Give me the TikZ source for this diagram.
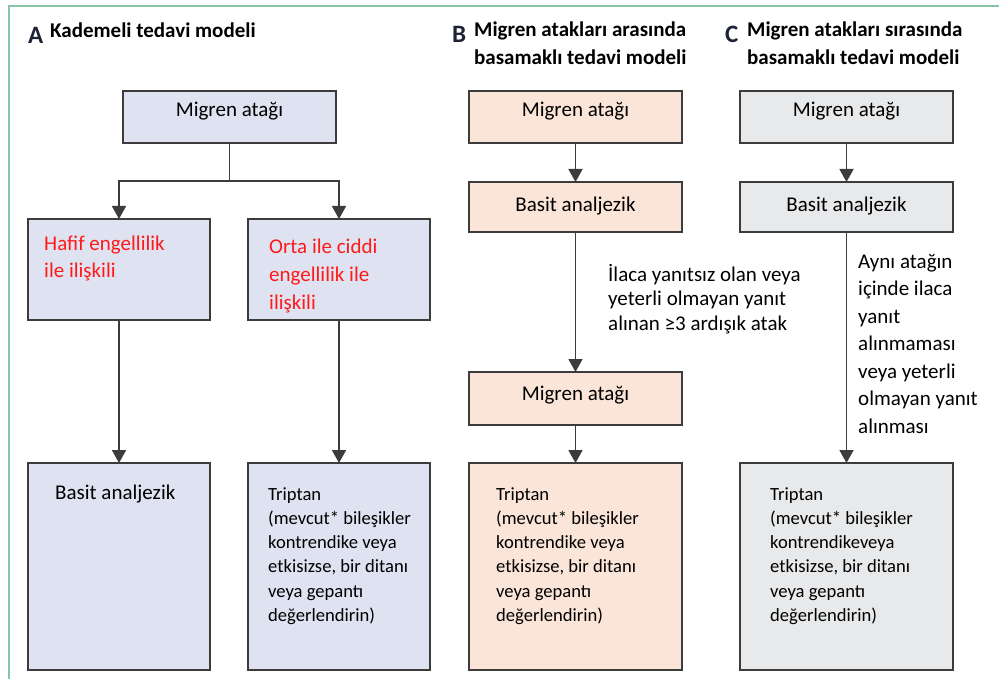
\documentclass[tikz,border=0pt]{standalone}
\usepackage{fontspec}
\setmainfont{Carlito}
\usetikzlibrary{arrows.meta}
\definecolor{frameg}{HTML}{86C5A5}
\definecolor{fillA}{HTML}{DFE2F1}
\definecolor{fillB}{HTML}{FBE5D9}
\definecolor{fillC}{HTML}{E8E9EB}
\definecolor{edgec}{HTML}{3C3C3C}
\definecolor{redt}{HTML}{FF1A1A}
\definecolor{titlec}{HTML}{1E2235}
\begin{document}
\begin{tikzpicture}[x=1pt,y=-1pt,
  box/.style={draw=edgec, line width=2pt, inner sep=0pt, outer sep=0pt, anchor=north west},
  boxA/.style={box, fill=fillA},
  boxB/.style={box, fill=fillB},
  boxC/.style={box, fill=fillC},
  arr/.style={draw=edgec, line width=1.8pt, -{Triangle[width=14pt,length=13pt]}},
  txt/.style={inner sep=0pt, font=\fontsize{21}{28}\selectfont, text=black},
  rtxt/.style={txt, text=redt, align=left, anchor=base west},
  ttl/.style={inner sep=0pt, font=\fontsize{21}{28}\selectfont\bfseries, align=left, anchor=base west},
  letter/.style={inner sep=0pt, font=\fontsize{25}{28}\selectfont\bfseries, text=titlec, anchor=base west},
  trip/.style={inner sep=0pt, font=\fontsize{18.6}{24.3}\selectfont, align=left, anchor=base west},
  lblB/.style={inner sep=0pt, font=\fontsize{21}{24.7}\selectfont, align=left, anchor=base west},
  lblC/.style={inner sep=0pt, font=\fontsize{21}{27.5}\selectfont, align=left, anchor=base west}
]
\useasboundingbox (0,0) rectangle (999,679);
% frame
\draw[frameg, line width=2pt] (999,6) -- (9,6) -- (9,679);

% ---------- Panel A ----------
\node[letter] (LA) at (28,44) {A};
\node[ttl] (TA) at (50,38) {Kademeli tedavi modeli};
\node[boxA, minimum width=213pt, minimum height=52pt] (a1) at (123,91) {};
\node[boxA, minimum width=182pt, minimum height=101pt] (a2) at (28,219) {};
\node[boxA, minimum width=182pt, minimum height=101pt] (a3) at (248,219) {};
\node[boxA, minimum width=182pt, minimum height=207pt] (a4) at (28,463) {};
\node[boxA, minimum width=182pt, minimum height=207pt] (a5) at (248,463) {};
\node[txt, anchor=base] (ta1) at (229.5,117) {Migren atağı};
\node[rtxt] (ta2) at (44,278) {Hafif engellilik\\ile ilişkili};
\node[rtxt] (ta3) at (269,309) {Orta ile ciddi\\engellilik ile\\ilişkili};
\node[txt, anchor=base west] (ta4) at (55,499) {Basit analjezik};
\node[trip] (ta5) at (268,621.5) {Triptan\\(mevcut* bileşikler\\kontrendike veya\\etkisizse, bir ditanı\\veya gepantı\\değerlendirin)};
\draw[arr] (a1.south) -- ++(0,38) -| (a2.north);
\draw[arr] (a1.south) ++(0,38) -| (a3.north);
\draw[arr] (a2.south) -- (a4.north);
\draw[arr] (a3.south) -- (a5.north);

% ---------- Panel B ----------
\node[letter] (LB) at (452,43) {B};
\node[ttl] (TB) at (474,65) {Migren atakları arasında\\basamaklı tedavi modeli};
\node[boxB, minimum width=213pt, minimum height=52pt] (b1) at (469,91) {};
\node[boxB, minimum width=213pt, minimum height=50pt] (b2) at (469,182) {};
\node[boxB, minimum width=213pt, minimum height=53pt] (b3) at (469,372) {};
\node[boxB, minimum width=213pt, minimum height=207pt] (b4) at (469,463) {};
\node[txt, anchor=base] (tb1) at (575.5,117) {Migren atağı};
\node[txt, anchor=base] (tb2) at (575.5,212) {Basit analjezik};
\node[txt, anchor=base] (tb3) at (575.5,400) {Migren atağı};
\node[trip] (tb4) at (496,621.5) {Triptan\\(mevcut* bileşikler\\kontrendike veya\\etkisizse, bir ditanı\\veya gepantı\\değerlendirin)};
\node[lblB] (lb) at (608,330.4) {İlaca yanıtsız olan veya\\yeterli olmayan yanıt\\alınan ≥3 ardışık atak};
\draw[arr] (b1.south) -- (b2.north);
\draw[arr] (b2.south) -- (b3.north);
\draw[arr] (b3.south) -- (b4.north);

% ---------- Panel C ----------
\node[letter] (LC) at (725,43) {C};
\node[ttl] (TC) at (747,65) {Migren atakları sırasında\\basamaklı tedavi modeli};
\node[boxC, minimum width=213pt, minimum height=52pt] (c1) at (740,91) {};
\node[boxC, minimum width=213pt, minimum height=50pt] (c2) at (740,182) {};
\node[boxC, minimum width=213pt, minimum height=207pt] (c4) at (740,463) {};
\node[txt, anchor=base] (tc1) at (846.5,117) {Migren atağı};
\node[txt, anchor=base] (tc2) at (846.5,212) {Basit analjezik};
\node[trip] (tc4) at (770,621.5) {Triptan\\(mevcut* bileşikler\\kontrendikeveya\\etkisizse, bir ditanı\\veya gepantı\\değerlendirin)};
\node[lblC] (lc) at (858,433) {Aynı atağın\\içinde ilaca\\yanıt\\alınmaması\\veya yeterli\\olmayan yanıt\\alınması};
\draw[arr] (c1.south) -- (c2.north);
\draw[arr] (c2.south) -- (c4.north);
\end{tikzpicture}
\end{document}
